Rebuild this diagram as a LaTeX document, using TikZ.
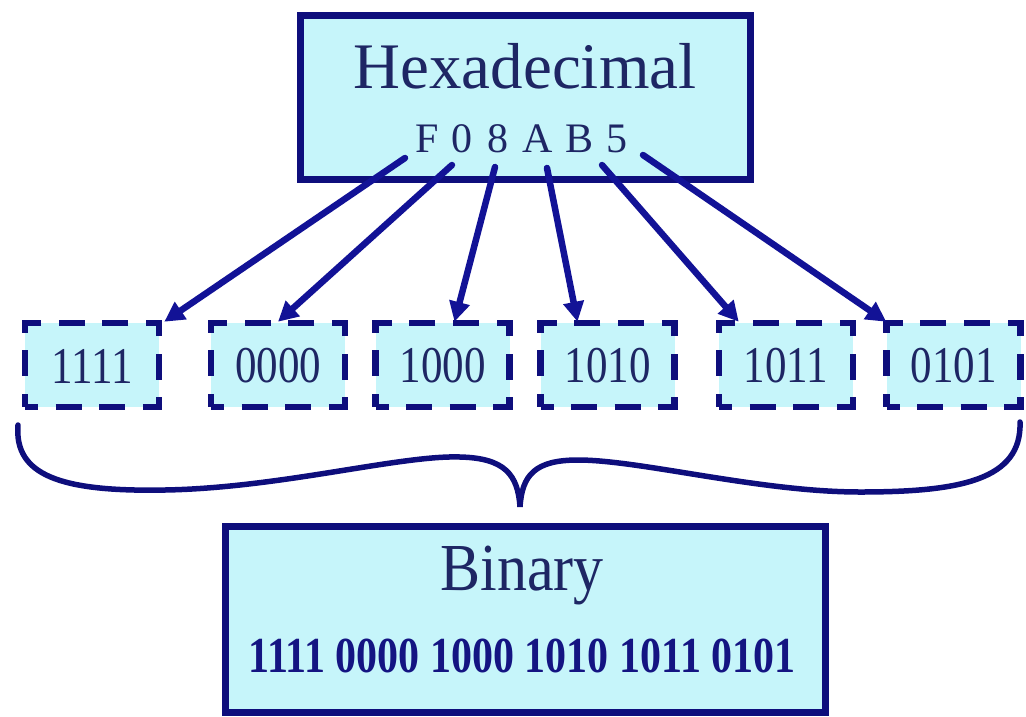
\documentclass[tikz,border=0pt]{standalone}
\usepackage{fontspec}
\setmainfont{Liberation Serif}
\usetikzlibrary{arrows.meta}
\definecolor{navy}{RGB}{14,14,124}
\definecolor{arrowblue}{RGB}{18,18,150}
\definecolor{txtblue}{RGB}{30,38,100}
\definecolor{boldblue}{RGB}{20,20,130}
\definecolor{cyanfill}{RGB}{198,245,250}
\tikzset{
  solidbox/.style={draw=navy, line width=7pt, fill=cyanfill, inner sep=0pt},
  dashbox/.style={draw=navy, line width=6.5pt, fill=cyanfill, inner sep=0pt,
    minimum width=134pt, minimum height=84pt, dash pattern=on 26pt off 17.6pt, dash phase=13pt},
  txt/.style={text=txtblue, inner sep=0pt},
  arr/.style={draw=arrowblue, line width=6.5pt, line cap=round,
    -{Triangle[length=20pt,width=20pt]}},
  bracestyle/.style={draw=navy, line width=5.5pt, line cap=round},
}
\newcommand{\dig}[1]{\scalebox{1}[1.2]{#1}}
\begin{document}
\begin{tikzpicture}[x=1pt,y=-1pt]
\useasboundingbox (0,0) rectangle (1026,716);
% top box
\node[solidbox, minimum width=450pt, minimum height=164pt] (hex) at (525,97) {};
\node[txt, anchor=base, font=\fontsize{65}{65}\selectfont] (hexlabel) at (525,88) {Hexadecimal};
\node[txt, anchor=base, font=\fontsize{42}{42}\selectfont] (cF) at (427,152) {F};
\node[txt, anchor=base, font=\fontsize{42}{42}\selectfont] (c0) at (462,152) {0};
\node[txt, anchor=base, font=\fontsize{42}{42}\selectfont] (c8) at (498,152) {8};
\node[txt, anchor=base, font=\fontsize{42}{42}\selectfont] (cA) at (538,152) {A};
\node[txt, anchor=base, font=\fontsize{42}{42}\selectfont] (cB) at (580,152) {B};
\node[txt, anchor=base, font=\fontsize{42}{42}\selectfont] (c5) at (617,152) {5};
% dashed boxes
\node[dashbox] (b1) at (92,365) {};
\node[dashbox] (b2) at (278,365) {};
\node[dashbox] (b3) at (442.5,365) {};
\node[dashbox] (b4) at (607.5,365) {};
\node[dashbox] (b5) at (786,365) {};
\node[dashbox] (b6) at (953.5,365) {};
\foreach \n/\t in {b1/1111,b2/0000,b3/1000,b4/1010,b5/1011,b6/0101}{
  \node[txt, font=\fontsize{43}{43}\selectfont] (\n t) at ([yshift=-1pt]\n.center) {\dig{\t}};
}
% arrows
\draw[arr] ([xshift=-22pt,yshift=-6pt]cF.base) -- ([xshift=2pt,yshift=-2pt]b1.north east);
\draw[arr] ([xshift=-10pt,yshift=-13pt]c0.base) -- ([yshift=-2pt]b2.north);
\draw[arr] ([xshift=-3pt,yshift=-15pt]c8.base) -- ([xshift=12pt,yshift=-2pt]b3.north);
\draw[arr] ([xshift=9pt,yshift=-16pt]cA.base) -- ([xshift=-30pt,yshift=-2pt]b4.north);
\draw[arr] ([xshift=22pt,yshift=-13pt]cB.base) -- ([xshift=23pt,yshift=-2pt]b5.north west);
\draw[arr] ([xshift=26pt,yshift=-3pt]c5.base) -- ([xshift=3pt,yshift=-2pt]b6.north west);
% brace
\draw[bracestyle] (18,425) .. controls (14,475) and (60,492) .. (165,490)
  .. controls (280,488) and (400,455) .. (460,457)
  .. controls (505,458) and (518,475) .. (520,507)
  .. controls (522,475) and (535,460) .. (578,460)
  .. controls (640,460) and (760,492) .. (860,492)
  .. controls (960,492) and (1022,480) .. (1020,422);
% bottom box
\node[solidbox, minimum width=600pt, minimum height=186pt] (bin) at (525,619) {};
\node[txt, anchor=base, font=\fontsize{60}{60}\selectfont] (binlabel) at (522,590) {\scalebox{1}[1.12]{Binary}};
\node[inner sep=0pt, anchor=base, text=boldblue, font=\fontsize{42}{42}\selectfont\bfseries] (binstr) at (522,672) {\dig{1111 0000 1000 1010 1011 0101}};
\end{tikzpicture}
\end{document}
